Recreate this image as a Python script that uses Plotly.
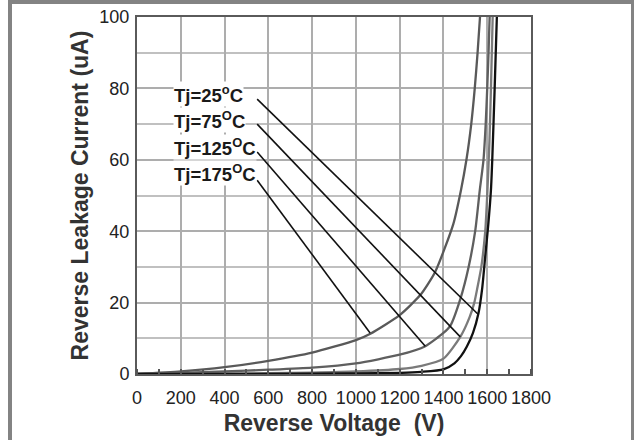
import plotly.graph_objects as go

# ---------------- data ----------------
v_175 = [0, 200, 400, 600, 800, 1000, 1066, 1200, 1294, 1362, 1445, 1480, 1505, 1527, 1543, 1556, 1567]
i_175 = [0, 0.7, 1.9, 3.7, 6.0, 9.5, 11.3, 16.5, 22.1, 28.6, 42, 51.5, 60, 70, 80, 90, 100]

v_125 = [0, 200, 400, 600, 800, 1000, 1200, 1317, 1400, 1431, 1477, 1515, 1545, 1566, 1583, 1593, 1600, 1606, 1611]
i_125 = [0, 0.3, 0.7, 1.2, 1.8, 3.0, 5.4, 7.8, 11.5, 13.5, 21, 30, 40, 51.5, 60, 70, 80, 90, 100]

v_75 = [0, 400, 800, 1000, 1200, 1300, 1400, 1477, 1520, 1541, 1553, 1573, 1591, 1601, 1610, 1617, 1625]
i_75 = [0, 0.1, 0.4, 0.7, 1.4, 2.3, 4.3, 10.4, 16, 20, 23.5, 30, 40, 51.5, 65, 80, 100]

v_25 = [0, 600, 1000, 1200, 1300, 1400, 1450, 1480, 1507, 1535, 1560, 1577, 1591, 1605, 1617, 1623, 1634, 1644]
i_25 = [0, 0.05, 0.15, 0.3, 0.6, 1.3, 3, 5, 7.7, 11.5, 17, 24, 33, 42, 51.5, 60, 80, 100]

series_names = ["Tj=25<sup>o</sup>C", "Tj=75<sup>O</sup>C", "Tj=125<sup>O</sup>C", "Tj=175<sup>O</sup>C"]

# label anchor (text left edge / centre), leader start and leader end (on the curve)
label_v = [165, 165, 165, 165]
label_i = [78.4, 71.1, 63.6, 56.3]
leader_start_v = [549, 549, 549, 549]
leader_start_i = [77.0, 70.0, 62.2, 54.3]
leader_end_v = [1557, 1477, 1317, 1065]
leader_end_i = [16.8, 10.4, 7.8, 11.5]

x_ticks = [0, 200, 400, 600, 800, 1000, 1200, 1400, 1600, 1800]
y_ticks = [0, 20, 40, 60, 80, 100]

# ---------------- figure ----------------
W, H = 634, 440
ML, MR, MT, MB = 137, 103, 17, 66
PW, PH = W - ML - MR, H - MT - MB

fig = go.Figure()

curves = [
    (v_175, i_175, "#595959"),
    (v_125, i_125, "#5f5f5f"),
    (v_75, i_75, "#7a7a7a"),
    (v_25, i_25, "#111111"),
]
for vx, iy, col in curves:
    fig.add_trace(go.Scatter(x=vx, y=iy, mode="lines",
                             line=dict(color=col, width=2.3, shape="spline", smoothing=0.6),
                             hoverinfo="skip", showlegend=False))

for k in range(4):
    fig.add_trace(go.Scatter(x=[leader_start_v[k], leader_end_v[k]],
                             y=[leader_start_i[k], leader_end_i[k]],
                             mode="lines", line=dict(color="#111111", width=1.6),
                             hoverinfo="skip", showlegend=False))
    fig.add_annotation(x=label_v[k], y=label_i[k], xref="x", yref="y",
                       text="<b>" + series_names[k] + "</b>", showarrow=False,
                       xanchor="left", yanchor="middle", bgcolor="white",
                       borderpad=0,
                       font=dict(family="Liberation Sans, Arial, sans-serif", size=18.5, color="#1a1a1a"))


def px2paper_x(px):
    return (px - ML) / PW


def px2paper_y(py):
    return (H - MB - py) / PH


# grey outer frame (top, left, right edges)
fig.add_shape(type="path", xref="paper", yref="paper",
              path=f"M {px2paper_x(10)},{px2paper_y(470)} L {px2paper_x(10)},{px2paper_y(2)} "
                   f"L {px2paper_x(633)},{px2paper_y(2)} L {px2paper_x(633)},{px2paper_y(470)}",
              line=dict(color="#838383", width=4))

axis_font = dict(family="Liberation Sans, Arial, sans-serif", size=18, color="#222222")
title_font = dict(family="Liberation Sans, Arial, sans-serif", size=23, color="#333333")

fig.update_xaxes(range=[0, 1800], tickvals=x_ticks, ticktext=[str(t) for t in x_ticks],
                 showgrid=True, gridcolor="#adadad", gridwidth=1.6,
                 showline=True, linecolor="#5a5a5a", linewidth=2, mirror=True,
                 ticks="", zeroline=False, tickfont=axis_font, ticklabelstandoff=6,
                 minor=dict(dtick=100, ticks="inside", ticklen=5, tickcolor="#555555",
                            tickwidth=1.5, showgrid=False),
                 title=dict(text="<b>Reverse Voltage  (V)</b>", font=title_font, standoff=8))
fig.update_yaxes(range=[0, 100], tickvals=y_ticks, ticktext=[str(t) for t in y_ticks],
                 showgrid=True, gridcolor="#adadad", gridwidth=1.6,
                 showline=True, linecolor="#5a5a5a", linewidth=2, mirror=True,
                 ticks="", zeroline=False, tickfont=axis_font, ticklabelstandoff=2,
                 minor=dict(dtick=10, showgrid=True, gridcolor="#c0c0c0", gridwidth=1.6),
                 title=dict(text="<b>Reverse Leakage Current (uA)</b>", font=title_font, standoff=4))

fig.update_layout(width=W, height=H, autosize=False,
                  margin=dict(l=ML, r=MR, t=MT, b=MB, autoexpand=False),
                  paper_bgcolor="white", plot_bgcolor="white")

fig.write_html("out.html", config={"displayModeBar": False},
               post_script="document.body.style.margin='0';document.body.style.padding='0';")
